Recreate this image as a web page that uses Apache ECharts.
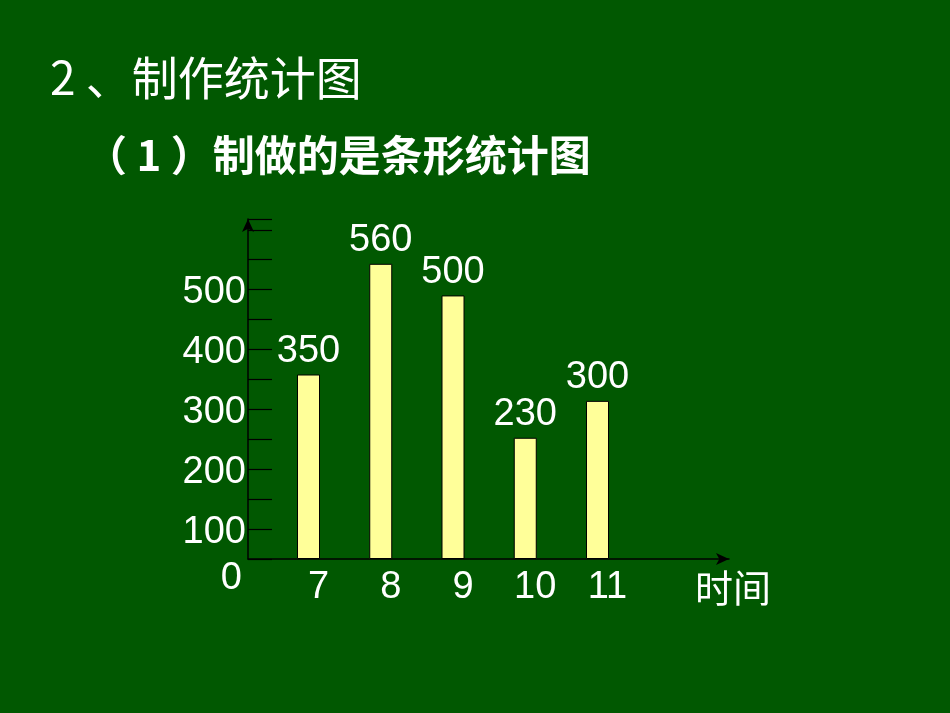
<!DOCTYPE html>
<html>
<head>
<meta charset="utf-8">
<script src="https://cdn.jsdelivr.net/npm/echarts@6/dist/echarts.min.js"></script>
<style>
  html, body { margin: 0; padding: 0; background: #015801; }
  #main { width: 950px; height: 713px; }
</style>
</head>
<body>
<div id="main"></div>
<script>
var myChart = echarts.init(document.getElementById('main'));

// 数据
var hours = [7, 8, 9, 10, 11];            // 时间
var counts = [350, 560, 500, 230, 300];   // 数量
var yLabels = [0, 100, 200, 300, 400, 500];

var barData = [];
for (var i = 0; i < hours.length; i++) {
    barData.push([hours[i], counts[i]]);
}

var numFont = 'Liberation Sans, Arial, sans-serif';
var cjkFont = 'Noto Sans CJK SC, sans-serif';

option = {
    backgroundColor: '#015801',
    animation: false,
    graphic: [
        {
            type: 'text', x: 50, y: 78,
            style: {
                text: '2 、制作统计图',
                fill: '#fff',
                font: '46px ' + cjkFont,
                verticalAlign: 'middle'
            }
        },
        {
            type: 'text', x: 85, y: 155,
            style: {
                text: '（ 1 ）制做的是条形统计图',
                fill: '#fff',
                font: 'bold 42px ' + cjkFont,
                verticalAlign: 'middle'
            }
        }
    ],
    grid: {
        left: 248,
        top: 219,
        right: 221,
        bottom: 154
    },
    xAxis: {
        type: 'value',
        min: 6.1626,
        max: 12.82,
        minInterval: 1,
        maxInterval: 1,
        splitLine: { show: false },
        axisTick: { show: false },
        axisLine: {
            lineStyle: { color: '#000', width: 1.5 },
            symbol: ['none', 'arrow'],
            symbolSize: [9, 13]
        },
        axisLabel: {
            color: '#fff',
            fontSize: 38,
            fontFamily: numFont,
            margin: 10,
            showMinLabel: false,
            showMaxLabel: false,
            padding: [0, 0, 0, 20],
            formatter: function (v) {
                return hours.indexOf(v) >= 0 ? String(v) : '';
            }
        },
        name: '时间',
        nameLocation: 'end',
        nameGap: 4,
        nameTextStyle: {
            color: '#fff',
            fontSize: 38,
            fontFamily: cjkFont,
            align: 'center',
            verticalAlign: 'top',
            padding: [10, 0, 0, 0]
        }
    },
    yAxis: [
        {   // 刻度轴
            type: 'value',
            min: 0,
            max: 568,
            interval: 50,
            splitLine: { show: false },
            axisLine: {
                show: true,
                lineStyle: { color: '#000', width: 1.5 },
                symbol: ['none', 'arrow'],
                symbolSize: [9, 13]
            },
            axisTick: {
                show: true,
                inside: true,
                length: 24,
                lineStyle: { color: '#000', width: 1.2 }
            },
            axisLabel: {
                color: '#fff',
                fontSize: 38,
                fontFamily: numFont,
                margin: 2,
                formatter: function (v) {
                    if (v === 0) return '{z|0}';
                    return yLabels.indexOf(v) >= 0 ? '{n|' + v + '}' : '';
                },
                rich: {
                    n: { color: '#fff', fontSize: 38, fontFamily: numFont, padding: [66, 0, 0, 0] },
                    z: { color: '#fff', fontSize: 38, fontFamily: numFont, padding: [40, 4, 0, 0] }
                }
            }
        },
        {   // 条形用
            type: 'value',
            min: 0,
            max: 645,
            show: false,
            splitLine: { show: false }
        }
    ],
    series: [{
        type: 'bar',
        xAxisIndex: 0,
        yAxisIndex: 1,
        data: barData,
        barWidth: 23,
        itemStyle: {
            color: '#ffff99',
            borderColor: '#000',
            borderWidth: 1
        },
        label: {
            show: true,
            position: 'top',
            distance: 4,
            color: '#fff',
            fontSize: 38,
            fontFamily: numFont,
            formatter: function (p) { return p.value[1]; }
        }
    }]
};

myChart.setOption(option);
</script>
</body>
</html>
